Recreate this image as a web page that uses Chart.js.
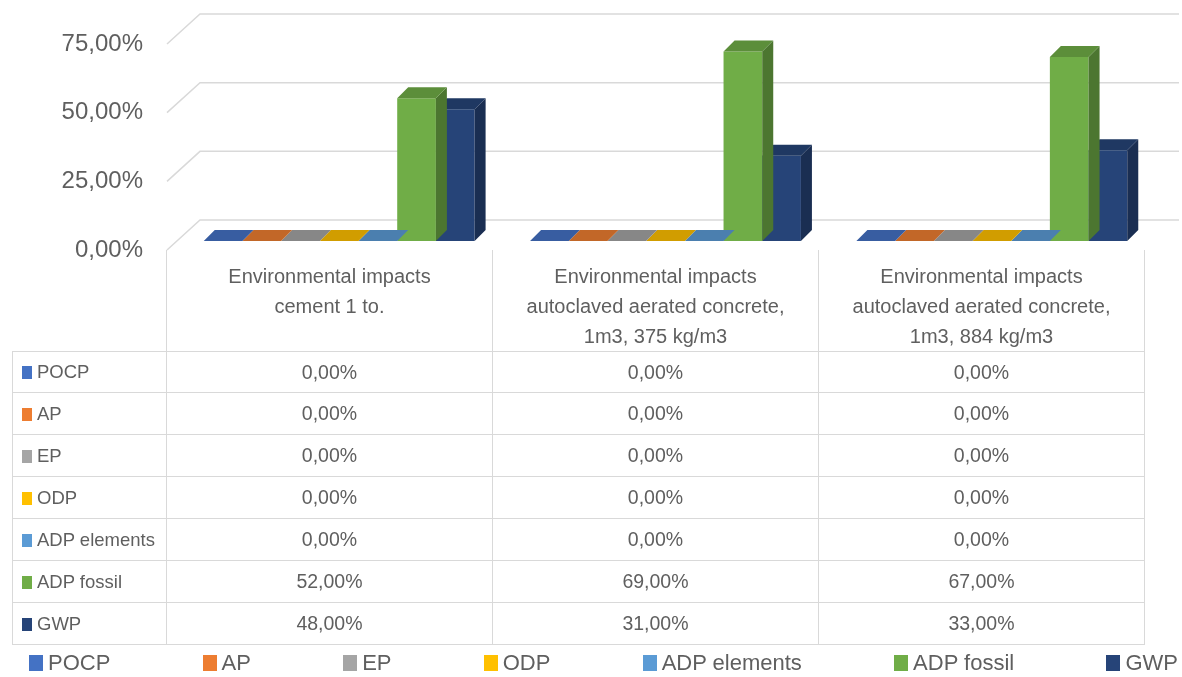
<!DOCTYPE html>
<html>
<head>
<meta charset="utf-8">
<script src="https://cdn.jsdelivr.net/npm/chart.js@4.4.0/dist/chart.umd.min.js"></script>
<style>
  html, body { margin: 0; padding: 0; background: #fff; }
  body { width: 1182px; height: 677px; position: relative; overflow: hidden;
         font-family: "Liberation Sans", Arial, sans-serif; color: #5f5f5f; }
  #c { position: absolute; left: 0; top: 0; }
  #tbl { position: absolute; left: 12px; top: 250px; border-collapse: separate; border-spacing: 0;
         table-layout: fixed; }
  #tbl td { padding: 0; white-space: nowrap; }
  #tbl tr.head td { height: 101px; vertical-align: top; text-align: center; font-size: 20px;
                    line-height: 30px; box-sizing: border-box; padding-top: 11px; border-right: 1px solid #d9d9d9; }
  #tbl tr.row td { height: 42px; box-sizing: border-box; border-right: 1px solid #d9d9d9;
                   border-bottom: 1px solid #d9d9d9; text-align: center; font-size: 19.5px; }
  #tbl tr.row td.name { border-left: 1px solid #d9d9d9; text-align: left; font-size: 18.5px; padding-left: 9px; }
  #tbl tr.first td { border-top: 1px solid #d9d9d9; }
  .mk { display: inline-block; width: 10px; height: 13px; margin-right: 5px; vertical-align: -1px; }
  #legend { position: absolute; left: 29px; width: 1149px; top: 650px; display: flex;
            justify-content: space-between; font-size: 22px; line-height: 26px; }
  #legend .mk { width: 14px; height: 16px; margin-right: 5px; vertical-align: -1px; }
</style>
</head>
<body>
<canvas id="c" width="1182" height="677"></canvas>
<table id="tbl"></table>
<div id="legend"></div>
<script>
// categories (header lines as in the table)
const categories = [
  ['Environmental impacts', 'cement 1 to.'],
  ['Environmental impacts', 'autoclaved aerated concrete,', '1m3, 375 kg/m3'],
  ['Environmental impacts', 'autoclaved aerated concrete,', '1m3, 884 kg/m3']
];
const seriesNames = ['POCP', 'AP', 'EP', 'ODP', 'ADP elements', 'ADP fossil', 'GWP'];
const pocp = [0, 0, 0];
const ap = [0, 0, 0];
const ep = [0, 0, 0];
const odp = [0, 0, 0];
const adpElements = [0, 0, 0];
const adpFossil = [0.52, 0.69, 0.67];
const gwp = [0.48, 0.31, 0.33];
const yTicks = [0, 0.25, 0.5, 0.75];

const seriesValues = [pocp, ap, ep, odp, adpElements, adpFossil, gwp];
const colors = ['#4472C4', '#ED7D31', '#A5A5A5', '#FFC000', '#5B9BD5', '#70AD47', '#264478'];

const fmt = v => (v * 100).toFixed(2).replace('.', ',') + '%';

// depth of the 3d box
const DX = 33, DY = 30;   // back wall offset
const BX = 9, BY = 9;     // bar front plane offset
const SX = 11, SY = 11;   // bar depth

function shade(hex, f) {
  const n = parseInt(hex.slice(1), 16);
  const r = Math.round(((n >> 16) & 255) * f);
  const g = Math.round(((n >> 8) & 255) * f);
  const b = Math.round((n & 255) * f);
  return `rgb(${r},${g},${b})`;
}

const threeD = {
  id: 'threeD',
  beforeDatasetsDraw(chart) {
    const {ctx, chartArea: a, scales: {y}} = chart;
    ctx.save();
    ctx.strokeStyle = '#d9d9d9';
    ctx.lineWidth = 1.5;
    y.ticks.forEach(t => {
      const py = y.getPixelForValue(t.value);
      ctx.beginPath();
      ctx.moveTo(a.left, py);
      ctx.lineTo(a.left + DX, py - DY);
      ctx.lineTo(a.right + DX, py - DY);
      ctx.stroke();
    });
    ctx.restore();
    ctx.save();
    ctx.translate(BX, -BY);
  },
  afterDatasetDraw(chart, args) {
    const ctx = chart.ctx;
    const col = chart.data.datasets[args.index].backgroundColor;
    args.meta.data.forEach(bar => {
      const {x, y, base, width} = bar.getProps(['x', 'y', 'base', 'width'], true);
      const l = x - width / 2, r = x + width / 2;
      ctx.fillStyle = shade(col, 0.68);
      ctx.beginPath();
      ctx.moveTo(r, y); ctx.lineTo(r + SX, y - SY); ctx.lineTo(r + SX, base - SY); ctx.lineTo(r, base);
      ctx.closePath(); ctx.fill();
      ctx.fillStyle = shade(col, 0.82);
      ctx.beginPath();
      ctx.moveTo(l, y); ctx.lineTo(l + SX, y - SY); ctx.lineTo(r + SX, y - SY); ctx.lineTo(r, y);
      ctx.closePath(); ctx.fill();
    });
  },
  afterDatasetsDraw(chart) {
    chart.ctx.restore();
  }
};

new Chart(document.getElementById('c'), {
  type: 'bar',
  data: {
    labels: categories,
    datasets: seriesNames.map((name, i) => ({
      label: name,
      data: seriesValues[i],
      backgroundColor: colors[i],
      borderWidth: 0,
      clip: false,
      categoryPercentage: 0.83,
      barPercentage: 1
    }))
  },
  options: {
    responsive: false,
    animation: false,
    events: [],
    layout: { padding: { top: 44, right: 36, bottom: 427, left: 0 } },
    plugins: { legend: { display: false }, tooltip: { enabled: false } },
    scales: {
      x: { display: false },
      y: {
        min: 0, max: 0.75,
        afterBuildTicks: s => { s.ticks = yTicks.map(v => ({value: v})); },
        afterFit: s => { s.width = 167; s.paddingTop = 0; s.paddingBottom = 0; },
        grid: { display: false, drawTicks: false },
        border: { display: false },
        ticks: {
          padding: 24,
          color: '#5f5f5f',
          font: { family: '"Liberation Sans", Arial, sans-serif', size: 24 },
          callback: v => fmt(v)
        }
      }
    }
  },
  plugins: [threeD]
});

// data table under the chart
const tbl = document.getElementById('tbl');
let html = '<colgroup><col style="width:155px"><col style="width:326px"><col style="width:326px"><col style="width:326px"></colgroup>';
html += '<tr class="head"><td></td>' + categories.map(c => '<td>' + c.join('<br>') + '</td>').join('') + '</tr>';
seriesNames.forEach((name, i) => {
  html += '<tr class="row' + (i === 0 ? ' first' : '') + '"><td class="name"><span class="mk" style="background:' + colors[i] + '"></span>' + name + '</td>' +
    seriesValues[i].map(v => '<td>' + fmt(v) + '</td>').join('') + '</tr>';
});
tbl.innerHTML = html;

// legend
document.getElementById('legend').innerHTML = seriesNames.map((name, i) =>
  '<span><span class="mk" style="background:' + colors[i] + '"></span>' + name + '</span>').join('');
</script>
</body>
</html>
